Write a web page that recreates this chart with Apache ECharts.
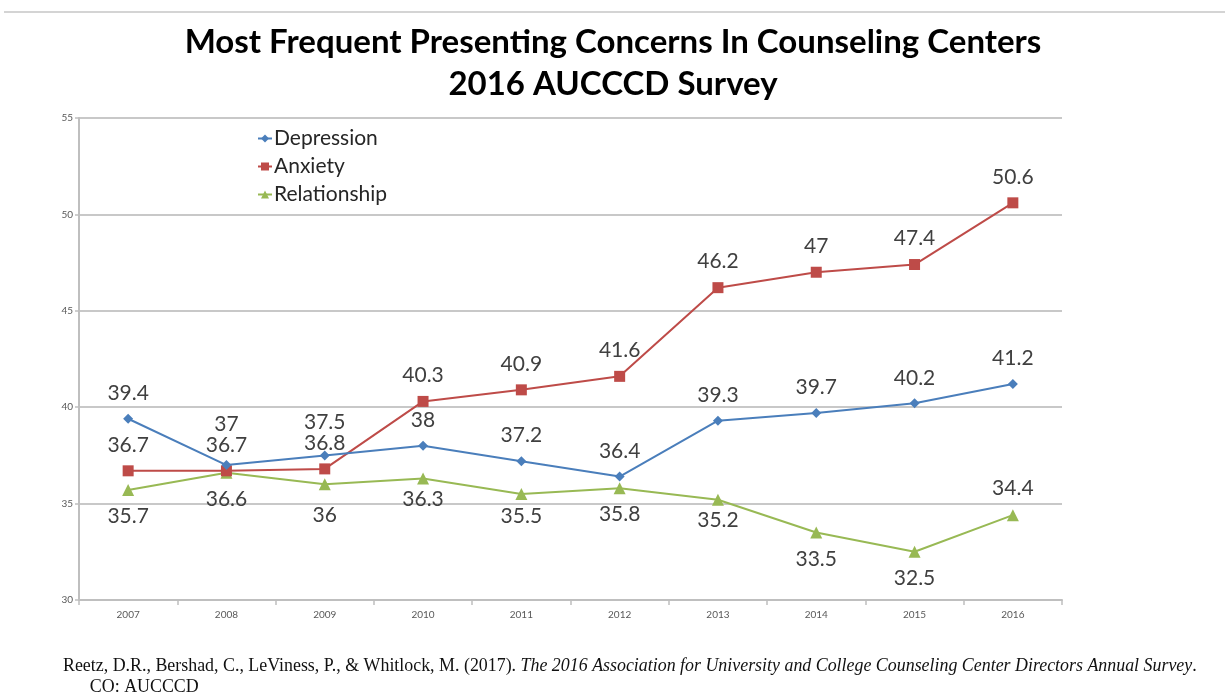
<!DOCTYPE html>
<html>
<head>
<meta charset="utf-8">
<script src="https://cdn.jsdelivr.net/npm/echarts@6/dist/echarts.min.js"></script>
<style>
	html, body { margin: 0; padding: 0; background: #fff; }
	#chart { width: 1225px; height: 694px; }
</style>
</head>
<body>
<div id="chart"></div>
<script>
	var years = ['2007', '2008', '2009', '2010', '2011', '2012', '2013', '2014', '2015', '2016'];
	var depression = [39.4, 37, 37.5, 38, 37.2, 36.4, 39.3, 39.7, 40.2, 41.2];
	var anxiety = [36.7, 36.7, 36.8, 40.3, 40.9, 41.6, 46.2, 47, 47.4, 50.6];
	var relationship = [35.7, 36.6, 36, 36.3, 35.5, 35.8, 35.2, 33.5, 32.5, 34.4];
	var yTicks = [30, 35, 40, 45, 50, 55];

	// label nudges (px) so the labels sit where the original puts them
	var depShift = [0, -15, -8, 0, 0, 0, 0, 0, 0, 0];
	var anxShift = [0, 0, 0, 0, 0, 0, 0, 0, 0, 0];
	var relShift = [0, 0, 4, -6, -4, 0, -6, 0, 0, 0];
	var relSide = ['bottom', 'bottom', 'bottom', 'bottom', 'bottom', 'bottom', 'bottom', 'bottom', 'bottom', 'top'];

	var labelFont = {
		fontSize: 21,
		color: '#404040',
		fontFamily: 'Lato'
	};

	function points(values, side, shift) {
		var out = [];
		for (var i = 0; i < values.length; i++) {
			var s = typeof side === 'string' ? side : side[i];
			out.push({
				value: values[i],
				label: {
					position: s,
					offset: [0, shift[i]]
				}
			});
		}
		return out;
	}

	var ec = echarts.init(document.getElementById('chart'));
	ec.setOption({
		animation: false,
		backgroundColor: '#fff',
		title: [{
			text: 'Most Frequent Presenting Concerns In Counseling Centers\n2016 AUCCCD Survey',
			left: 608,
			top: 16,
			textAlign: 'center',
			textStyle: {
				fontSize: 33,
				lineHeight: 42,
				fontWeight: 'bold',
				color: '#000',
				fontFamily: 'Lato'
			}
		}, {
			text: '{n|Reetz, D.R., Bershad, C., LeViness, P., & Whitlock, M. (2017). }{i|The 2016 Association for University and College Counseling Center Directors Annual Survey}{n|.}\n{n|      CO: AUCCCD}',
			left: 58,
			top: 651,
			textStyle: {
				fontWeight: 'normal',
				rich: {
					n: { fontSize: 17.9, lineHeight: 21, color: '#111', fontWeight: 'normal', fontFamily: 'Liberation Serif' },
					i: { fontSize: 17.9, lineHeight: 21, color: '#111', fontWeight: 'normal', fontFamily: 'Liberation Serif', fontStyle: 'italic' }
				}
			}
		}],
		graphic: [{
			type: 'line',
			shape: { x1: 4, y1: 12, x2: 1225, y2: 12 },
			style: { stroke: '#d4d4d4', lineWidth: 2 }
		}],
		legend: {
			orient: 'vertical',
			left: 252,
			top: 123,
			itemGap: 7,
			itemWidth: 14,
			itemHeight: 10,
			textStyle: {
				fontSize: 21,
				color: '#262626',
				fontFamily: 'Lato',
				padding: [0, 0, 0, -3]
			},
			data: ['Depression', 'Anxiety', 'Relationship']
		},
		grid: {
			left: 79,
			right: 163,
			top: 118,
			bottom: 94
		},
		xAxis: {
			type: 'category',
			data: years,
			boundaryGap: true,
			axisLine: { lineStyle: { color: '#bfbfbf', width: 2 } },
			axisTick: { show: true, length: 5, lineStyle: { color: '#bfbfbf', width: 1.5 } },
			axisLabel: { fontSize: 10, color: '#595959', margin: 10, fontFamily: 'Lato' }
		},
		yAxis: {
			type: 'value',
			min: yTicks[0],
			max: yTicks[yTicks.length - 1],
			interval: 5,
			axisLine: { show: true, lineStyle: { color: '#bfbfbf', width: 2 } },
			axisTick: { show: true, length: 4, lineStyle: { color: '#bfbfbf', width: 1.5 } },
			splitLine: { lineStyle: { color: '#c8c8c8', width: 2 } },
			axisLabel: { fontSize: 10, color: '#595959', margin: 6, fontFamily: 'Lato' }
		},
		series: [{
			name: 'Depression',
			type: 'line',
			symbol: 'diamond',
			symbolSize: 10,
			z: 3,
			itemStyle: { color: '#4a7ebb' },
			lineStyle: { color: '#4a7ebb', width: 2 },
			label: Object.assign({ show: true, distance: 10 }, labelFont),
			data: points(depression, 'top', depShift)
		}, {
			name: 'Anxiety',
			type: 'line',
			symbol: 'rect',
			symbolSize: 11,
			z: 2,
			itemStyle: { color: '#be4b48' },
			lineStyle: { color: '#be4b48', width: 2 },
			label: Object.assign({ show: true, distance: 10 }, labelFont),
			data: points(anxiety, 'top', anxShift)
		}, {
			name: 'Relationship',
			type: 'line',
			symbol: 'triangle',
			symbolSize: 12,
			z: 1,
			itemStyle: { color: '#98b954' },
			lineStyle: { color: '#98b954', width: 2 },
			label: Object.assign({ show: true, distance: 10 }, labelFont),
			data: points(relationship, relSide, relShift)
		}]
	});
</script>
</body>
</html>
